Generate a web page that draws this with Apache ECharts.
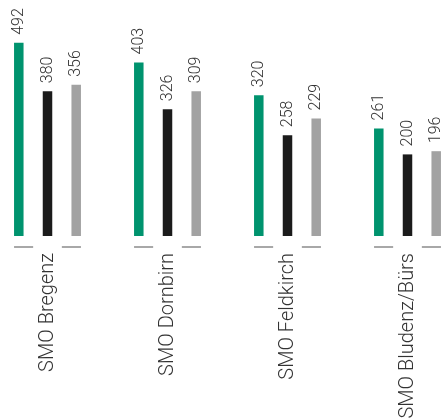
<!DOCTYPE html>
<html>
<head>
<meta charset="utf-8">
<script src="https://cdn.jsdelivr.net/npm/echarts@6/dist/echarts.min.js"></script>
<style>html,body{margin:0;padding:0;background:#fff}#c{width:441px;height:419px}</style>
</head>
<body>
<div id="c"></div>
<script>
const categories = ['SMO Bregenz', 'SMO Dornbirn', 'SMO Feldkirch', 'SMO Bludenz/Bürs'];
// bar heights
const greenValues = [483, 434, 352, 269];
const blackValues = [362, 317, 252, 204];
const grayValues  = [378, 362, 294, 212];
// value labels printed above the bars
const greenLabels = ['492', '403', '320', '261'];
const blackLabels = ['380', '326', '258', '200'];
const grayLabels  = ['356', '309', '229', '196'];

const FONT = 'Roboto, "Liberation Sans", Arial, sans-serif';
const BAR_W = 9.5, GAP = 19.2;

function labelCfg(labels) {
  return {
    show: true, position: 'top', rotate: 90, align: 'left', verticalAlign: 'middle',
    distance: 8, color: '#333', fontSize: 16, fontWeight: 300, fontFamily: FONT,
    formatter: p => labels[p.dataIndex]
  };
}

const chart = echarts.init(document.getElementById('c'), null, {renderer: 'canvas'});
chart.setOption({
  animation: false,
  grid: {left: -12.5, right: -26.5, top: 36, bottom: 183, outerBoundsMode: 'none', containLabel: false},
  xAxis: {
    type: 'category', data: categories,
    axisLine: {show: false}, axisTick: {show: false},
    axisLabel: {rotate: 90, margin: 17, color: '#333', fontSize: 20, fontWeight: 300, fontFamily: FONT, interval: 0}
  },
  yAxis: {type: 'value', min: 0, max: 500, show: false, splitLine: {show: false}},
  series: [
    {type: 'bar', data: greenValues, barWidth: BAR_W, barGap: (GAP / BAR_W * 100) + '%',
     itemStyle: {color: '#00936e'}, label: labelCfg(greenLabels)},
    {type: 'bar', data: blackValues, barWidth: BAR_W,
     itemStyle: {color: '#1b1b1b'}, label: labelCfg(blackLabels)},
    {type: 'bar', data: grayValues, barWidth: BAR_W,
     itemStyle: {color: '#a2a2a2'}, label: labelCfg(grayLabels)},
    {type: 'custom', data: categories.map((c, i) => [i, 0]), silent: true,
     renderItem: function (params, api) {
       const p = api.coord([api.value(0), 0]);
       const y = p[1] + 11;
       const outer = BAR_W * 1.5 + GAP;
       const inner = BAR_W / 2 + GAP / 2;
       const style = {stroke: '#6e6e6e', lineWidth: 1.2};
       return {type: 'group', children: [
         {type: 'line', shape: {x1: p[0] - outer, y1: y, x2: p[0] - inner, y2: y}, style},
         {type: 'line', shape: {x1: p[0] + inner, y1: y, x2: p[0] + outer, y2: y}, style}
       ]};
     }}
  ]
});
</script>
</body>
</html>
